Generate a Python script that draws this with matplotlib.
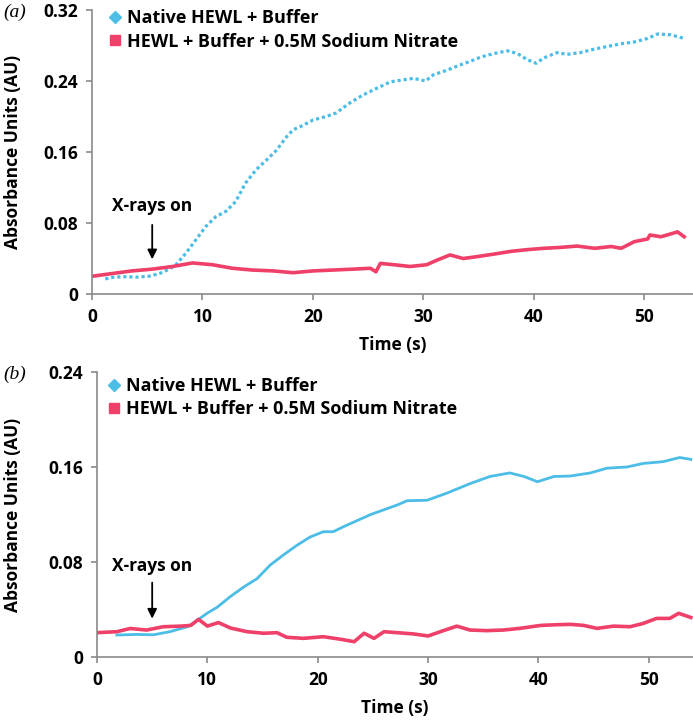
import matplotlib
matplotlib.use("Agg")
import matplotlib.pyplot as plt
from matplotlib.lines import Line2D

plt.rcParams['font.family'] = ['Open Sans', 'DejaVu Sans']
plt.rcParams['font.weight'] = 'bold'

# panel (a)
a_native_t = [1.2, 2.0, 3.0, 4.0, 5.15, 6.1, 7.0, 7.6, 8.5, 9.4, 10.3, 11.2, 12.1, 13.0, 13.9,
              14.85, 15.8, 16.7, 17.6, 18.2, 19.1, 20.0, 21.2, 22.1, 23.3, 24.5, 25.8, 27.0, 28.0,
              29.1, 30.2, 30.9, 32.1, 33.3, 34.2, 35.2, 36.4, 37.6, 38.5, 39.4, 40.2, 40.9, 42.1,
              43.0, 44.2, 45.5, 46.7, 47.9, 49.1, 50.3, 51.2, 52.4, 53.6]
a_native_v = [0.017, 0.019, 0.0195, 0.019, 0.020, 0.023, 0.028, 0.033, 0.046, 0.061, 0.076, 0.087,
              0.093, 0.104, 0.125, 0.140, 0.151, 0.162, 0.177, 0.185, 0.190, 0.196, 0.200, 0.204,
              0.215, 0.224, 0.232, 0.239, 0.241, 0.243, 0.240, 0.247, 0.252, 0.258, 0.262, 0.267,
              0.271, 0.274, 0.271, 0.264, 0.260, 0.266, 0.272, 0.270, 0.272, 0.276, 0.279, 0.282,
              0.284, 0.288, 0.293, 0.292, 0.288]
a_nitrate_t = [0, 1.8, 3.6, 5.45, 7.3, 9.1, 10.9, 12.7, 14.5, 16.4, 18.2, 20.0, 21.8, 23.6, 25.2,
               25.7, 26.1, 27.3, 28.8, 30.3, 31.2, 32.4, 33.6, 34.8, 36.4, 37.9, 39.4, 40.9, 42.4,
               43.9, 45.5, 47.0, 47.9, 49.1, 50.3, 50.5, 51.5, 53.0, 53.6]
a_nitrate_v = [0.020, 0.023, 0.026, 0.028, 0.031, 0.035, 0.033, 0.029, 0.027, 0.026, 0.024, 0.026,
               0.027, 0.028, 0.029, 0.025, 0.0345, 0.033, 0.031, 0.033, 0.038, 0.044, 0.040, 0.042,
               0.045, 0.048, 0.050, 0.0515, 0.0525, 0.054, 0.0515, 0.0535, 0.0515, 0.059, 0.062,
               0.0665, 0.0645, 0.070, 0.0645]

# panel (b)
b_native_t = [1.8, 3.6, 5.1, 6.6, 8.2, 9.1, 10.0, 10.9, 12.1, 13.3, 14.5, 15.7, 16.9, 18.1, 19.3,
              20.5, 21.4, 22.4, 23.6, 24.8, 26.0, 27.2, 28.1, 29.9, 31.7, 33.8, 35.6, 37.4, 38.7,
              39.9, 41.4, 42.9, 44.7, 46.2, 48.0, 49.5, 51.3, 52.8, 53.8]
b_native_v = [0.0185, 0.019, 0.0187, 0.0213, 0.0255, 0.031, 0.037, 0.042, 0.051, 0.059, 0.066,
              0.0775, 0.086, 0.094, 0.101, 0.1055, 0.1055, 0.110, 0.115, 0.120, 0.124, 0.128,
              0.1316, 0.132, 0.138, 0.146, 0.152, 0.155, 0.152, 0.1476, 0.152, 0.1524, 0.155,
              0.159, 0.160, 0.163, 0.1645, 0.168, 0.1664]
b_nitrate_t = [0, 1.8, 3.0, 4.5, 6.0, 7.6, 8.5, 9.2, 10.0, 11.0, 12.1, 13.6, 15.1, 16.3, 17.2,
               18.7, 20.5, 22.1, 23.3, 24.2, 25.1, 26.0, 27.2, 28.7, 30.0, 31.1, 32.6, 33.8, 35.3,
               36.8, 38.3, 40.2, 41.7, 42.9, 44.1, 45.3, 46.8, 48.3, 49.5, 50.7, 51.9, 52.7, 53.8]
b_nitrate_v = [0.0205, 0.0213, 0.024, 0.0227, 0.0255, 0.026, 0.0266, 0.0317, 0.026, 0.029, 0.0244,
               0.0213, 0.020, 0.0205, 0.0166, 0.0157, 0.0171, 0.0149, 0.0129, 0.020, 0.0157,
               0.0213, 0.0205, 0.0194, 0.0177, 0.0213, 0.026, 0.0227, 0.0222, 0.0227, 0.0241,
               0.0266, 0.0272, 0.0275, 0.0266, 0.0241, 0.026, 0.0255, 0.0283, 0.0325, 0.0325,
               0.0368, 0.0333]

a_yticks = [0, 0.08, 0.16, 0.24, 0.32]
b_yticks = [0, 0.08, 0.16, 0.24]
xticks = [0, 10, 20, 30, 40, 50]
labels = ['Native HEWL + Buffer', 'HEWL + Buffer + 0.5M Sodium Nitrate']

cyan = '#4BBDE6'
pink = '#EE4069'
spine = '#8a8a8a'

W, H = 693, 720
fig = plt.figure(figsize=(W / 100, H / 100), dpi=100)


def px_axes(left, top, right, bottom):
    return fig.add_axes([left / W, 1 - bottom / H, (right - left) / W, (bottom - top) / H])


ax_a = px_axes(92, 10, 693, 294)
ax_b = px_axes(97, 372, 693, 657)

ax_a.plot(a_native_t, a_native_v, color=cyan, lw=2.3, linestyle=(0, (1.0, 0.9)))
ax_a.plot(a_nitrate_t, a_nitrate_v, color=pink, lw=2.6)
ax_b.plot(b_native_t, b_native_v, color=cyan, lw=2.0)
ax_b.plot(b_nitrate_t, b_nitrate_v, color=pink, lw=2.6)

panels = [
    (ax_a, a_yticks, 54.4, 0.32, 5.45, 0.099, 0.081, 0.036, -0.1165, (0.002, 1.06)),
    (ax_b, b_yticks, 54.0, 0.24, 5.0, 0.077, 0.065, 0.030, -0.126, (-0.007, 1.04)),
]
for ax, yt, xmax, ymax, arr_t, txt_y, arr_y0, arr_y1, ylab_x, leg_anchor in panels:
    ax.set_xlim(0, xmax)
    ax.set_ylim(0, ymax)
    ax.set_xticks(xticks)
    ax.set_yticks(yt)
    ax.set_yticklabels(['0' if v == 0 else f'{v:.2f}' for v in yt])
    for s in ['top', 'right']:
        ax.spines[s].set_visible(False)
    for s in ['left', 'bottom']:
        ax.spines[s].set_color(spine)
        ax.spines[s].set_linewidth(1.2)
    ax.tick_params(direction='out', length=4, width=1.2, color=spine,
                   labelsize=12.5, pad=6)
    for t in ax.get_xticklabels() + ax.get_yticklabels():
        t.set_fontweight('bold')
    ax.set_xlabel('Time (s)', fontsize=12.5, fontweight='bold', labelpad=7)
    ax.set_ylabel('Absorbance Units (AU)', fontsize=12.5, fontweight='bold')
    ax.yaxis.set_label_coords(ylab_x, 0.5)
    ax.annotate('', xy=(arr_t, arr_y1), xytext=(arr_t, arr_y0),
                arrowprops=dict(arrowstyle='-|>', color='black', lw=1.3,
                                mutation_scale=14))
    ax.text(arr_t, txt_y, 'X-rays on', ha='center', va='center',
            fontsize=12.5, fontweight='bold')
    handles = [Line2D([], [], marker='D', color=cyan, linestyle='none', markersize=6),
               Line2D([], [], marker='s', color=pink, linestyle='none', markersize=6.5)]
    ax.legend(handles, labels, loc='upper left', bbox_to_anchor=leg_anchor,
              frameon=False, handlelength=0.6, handletextpad=0.35,
              labelspacing=0.3, prop={'size': 13, 'weight': 'bold'})

fig.text(3 / W, 1 - 12 / H, '(a)', family='Liberation Serif', style='italic',
         fontsize=14, va='center', fontweight='normal')
fig.text(3 / W, 1 - 374 / H, '(b)', family='Liberation Serif', style='italic',
         fontsize=14, va='center', fontweight='normal')

fig.savefig('out.png', dpi=100)
